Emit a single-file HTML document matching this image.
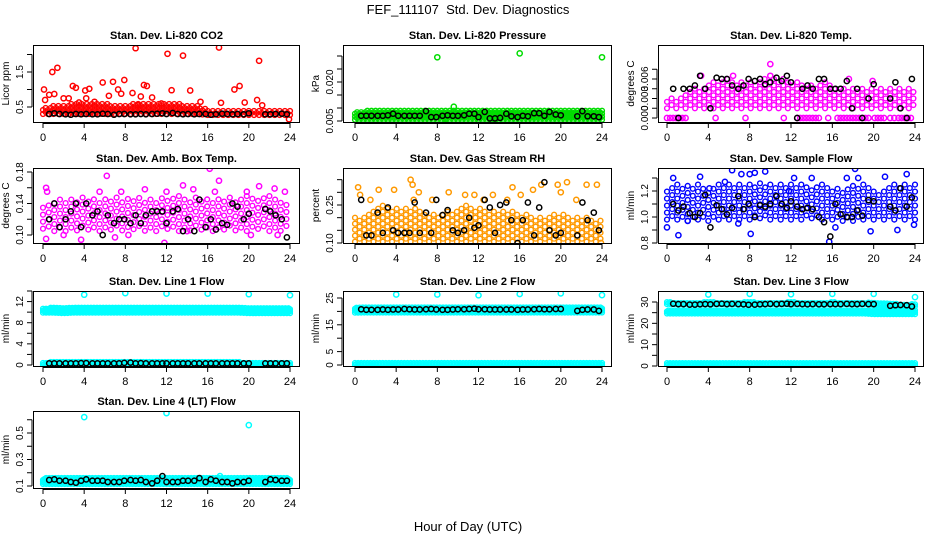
<!DOCTYPE html>
<html><head><meta charset="utf-8"><style>
html,body{margin:0;padding:0;background:#fff;}
svg{display:block;font-family:"Liberation Sans",Arial,sans-serif;}
</style></head><body>
<svg id="chart" width="936" height="540" viewBox="0 0 936 540">
<rect width="936" height="540" fill="#fff"/>
<text x="468" y="14" text-anchor="middle" font-size="13">FEF_111107&#160; Std. Dev. Diagnostics</text>
<text x="468" y="531" text-anchor="middle" font-size="13">Hour of Day (UTC)</text>
</svg>
<script>
const HOURS=[0,1,2,3,4,5,6,7,8,9,10,11,12,13,14,15,16,17,18,19,20,21,22,23,24];
const X_TICKS=[0,4,8,12,16,20,24];
const BLACK_X=[0.6,1.1,1.6,2.2,2.7,3.2,3.7,4.2,4.8,5.3,5.8,6.3,6.9,7.4,7.9,8.5,9.0,9.5,10.0,10.6,11.1,11.6,12.0,12.6,13.1,13.6,14.1,14.7,15.2,15.8,16.3,16.8,17.4,17.9,18.4,18.9,19.5,20.0,21.6,22.1,22.6,23.2,23.7];

const co2Lo=[0.3,0.3,0.3,0.3,0.3,0.3,0.3,0.3,0.3,0.3,0.3,0.3,0.3,0.3,0.3,0.3,0.27,0.27,0.27,0.27,0.27,0.27,0.27,0.27,0.27];
const co2Hi=[0.5,0.55,0.55,0.6,0.6,0.6,0.6,0.55,0.55,0.6,0.6,0.6,0.62,0.6,0.55,0.55,0.45,0.4,0.4,0.4,0.4,0.4,0.4,0.4,0.4];
const co2OutX=[0.1,0.2,0.9,1.4,0.6,1.1,2.9,3.2,3.5,4.1,4.5,4.2,5.8,6.4,6.8,7.3,7.6,7.9,8.7,9.0,9.5,9.8,10.1,10.6,12.1,12.5,13.6,14.3,15.3,17.1,17.3,18.6,19.1,19.6,20.8,21.0,21.3,23.9,2.0,2.5,11.5,5.0,9.2];
const co2OutY=[1.0,0.7,1.5,1.62,0.85,0.87,1.1,1.05,0.63,0.97,1.02,0.75,1.2,0.82,1.22,1.0,0.88,1.27,0.9,2.18,0.8,1.13,1.1,0.77,2.02,0.98,1.97,0.97,0.65,2.2,0.62,1.0,1.1,0.63,0.7,1.82,0.55,0.15,0.75,0.75,0.6,0.65,0.55];
const co2Black=[0.3,0.32,0.3,0.29,0.28,0.3,0.29,0.3,0.29,0.29,0.31,0.3,0.28,0.3,0.3,0.29,0.29,0.3,0.29,0.3,0.31,0.32,0.3,0.33,0.3,0.29,0.3,0.29,0.3,0.3,0.28,0.29,0.31,0.3,0.29,0.3,0.29,0.32,0.29,0.29,0.3,0.31,0.29];

const presLo=[0.0055,0.0055,0.0055,0.0055,0.0055,0.0055,0.0055,0.0055,0.0055,0.0055,0.0055,0.0055,0.0055,0.0055,0.0055,0.0055,0.0055,0.0055,0.0055,0.0055,0.0055,0.0055,0.0055,0.0055,0.0055];
const presHi=[0.0085,0.009,0.0095,0.0095,0.009,0.009,0.009,0.009,0.0095,0.0095,0.0095,0.0095,0.0095,0.009,0.009,0.0095,0.0095,0.009,0.0095,0.0095,0.0095,0.0095,0.0095,0.009,0.009];
const presOutX=[8.0,16.0,24.0,9.6,8.7];
const presOutY=[0.0295,0.031,0.0295,0.0105,0.004];
const presBlack=[0.007,0.007,0.007,0.007,0.007,0.0072,0.0078,0.007,0.007,0.007,0.007,0.007,0.0088,0.0065,0.0065,0.007,0.0072,0.007,0.007,0.0072,0.0078,0.0078,0.0065,0.0085,0.006,0.006,0.0062,0.0078,0.0068,0.0065,0.007,0.0068,0.008,0.008,0.007,0.0085,0.0075,0.0072,0.0068,0.0088,0.0068,0.0068,0.0065];

const tempLo=[0.0015,0.0015,0.0015,0.0015,0.0015,0.0015,0.0015,0.0015,0.0015,0.0015,0.0015,0.0015,0.0015,0.0015,0.0015,0.0015,0.0015,0.0015,0.0015,0.0015,0.0015,0.0015,0.0015,0.0015,0.0015];
const tempHi=[0.003,0.003,0.0045,0.0045,0.0052,0.006,0.006,0.0057,0.0057,0.006,0.0065,0.006,0.006,0.0052,0.0052,0.0055,0.0057,0.0045,0.0045,0.0045,0.0045,0.0045,0.0045,0.0045,0.0045];
const tempOutX=[10.0,3.3,6.4,10.0,0,0.3,0.6,0.9,1.2,1.5,1.8,4.7,7.6,11.3,12.6,12.9,13.2,13.5,13.8,14.1,14.4,14.7,15.6,16.5,16.8,17.1,17.4,17.7,18,18.3,18.6,18.9,19.2,19.5,20.1,20.4,20.7,21,21.6,22,22.4,22.7,23.0,23.3,23.6,19.9,17.6];
const tempOutY=[0.0083,0.0065,0.0065,0.0065,0,0,0,0,0,0,0,0,0,0,0,0,0,0,0,0,0,0,0,0,0,0,0,0,0,0,0,0,0,0,0,0,0,0,0,0,0,0,0,0,0,0.0057,0.006];
const tempBlack=[0.0045,0.0,0.0045,0.0045,0.005,0.0065,0.0045,0.0015,0.0062,0.006,0.006,0.005,0.0045,0.005,0.006,0.0057,0.006,0.0052,0.0055,0.0062,0.0057,0.0065,0.0055,0.0,0.0045,0.005,0.0045,0.006,0.006,0.0045,0.0045,0.0045,0.0057,0.0015,0.0045,0.0,0.003,0.0052,0.003,0.0055,0.0015,0.0,0.006];

const ambLo=[0.108,0.105,0.105,0.105,0.108,0.105,0.105,0.108,0.105,0.108,0.105,0.105,0.108,0.105,0.105,0.108,0.105,0.105,0.108,0.105,0.105,0.108,0.105,0.105,0.108];
const ambHi=[0.14,0.145,0.148,0.15,0.148,0.145,0.148,0.15,0.148,0.15,0.148,0.148,0.15,0.15,0.148,0.15,0.15,0.148,0.15,0.148,0.15,0.148,0.15,0.148,0.145];
const ambOutX=[0.3,0.4,0.3,3.7,6.2,7.0,7.6,9.9,11.8,12.0,13.6,14.6,16.2,17.1,16.7,19.8,21.0,22.5,22.8,2.0,5.5,8.3,14.0,20.2,23.5];
const ambOutY=[0.16,0.155,0.095,0.094,0.175,0.097,0.155,0.158,0.09,0.155,0.163,0.158,0.184,0.169,0.155,0.155,0.162,0.159,0.1,0.1,0.155,0.1,0.105,0.1,0.155];
const ambBlack=[0.12,0.14,0.11,0.12,0.13,0.14,0.11,0.14,0.125,0.13,0.1,0.125,0.115,0.12,0.12,0.115,0.125,0.115,0.125,0.13,0.13,0.13,0.115,0.13,0.133,0.105,0.12,0.105,0.145,0.11,0.12,0.107,0.115,0.113,0.14,0.136,0.12,0.127,0.133,0.13,0.125,0.12,0.097];

const rhLo=[0.105,0.105,0.105,0.105,0.105,0.105,0.105,0.105,0.105,0.105,0.105,0.105,0.105,0.105,0.105,0.105,0.105,0.105,0.105,0.105,0.105,0.105,0.105,0.105,0.105];
const rhHi=[0.2,0.22,0.25,0.25,0.24,0.25,0.24,0.22,0.22,0.23,0.24,0.25,0.24,0.23,0.22,0.23,0.22,0.21,0.2,0.22,0.22,0.21,0.2,0.2,0.19];
const rhOutX=[0.3,0.5,2.3,3.8,5.4,5.6,6.2,9.1,10.7,11.6,13.4,15.3,16.1,17.3,18.1,19.7,20.0,20.6,22.5,23.5,23.9,5.7,1.5,7.5,12.5,14.8,21.5];
const rhOutY=[0.32,0.29,0.31,0.31,0.35,0.33,0.3,0.3,0.29,0.29,0.29,0.32,0.29,0.31,0.33,0.33,0.3,0.34,0.33,0.33,0.1,0.27,0.27,0.27,0.27,0.27,0.27];
const rhBlack=[0.27,0.13,0.13,0.22,0.14,0.24,0.15,0.14,0.14,0.14,0.26,0.14,0.22,0.14,0.27,0.21,0.23,0.15,0.14,0.15,0.2,0.16,0.17,0.27,0.24,0.14,0.25,0.26,0.19,0.1,0.19,0.26,0.13,0.24,0.34,0.15,0.13,0.14,0.13,0.26,0.19,0.22,0.15];

const flowLo=[0.98,0.98,0.97,0.98,0.97,0.98,0.98,0.98,0.98,0.99,0.98,0.98,0.98,0.98,0.99,0.98,0.98,0.97,0.97,0.98,0.98,0.98,0.98,0.98,0.98];
const flowHi=[1.2,1.25,1.25,1.25,1.22,1.25,1.25,1.27,1.27,1.27,1.25,1.25,1.25,1.25,1.25,1.25,1.22,1.22,1.25,1.25,1.22,1.22,1.25,1.25,1.25];
const flowOutX=[0,0.6,1.1,3.2,4.1,5.6,6.3,7.2,8,8.5,9.5,8.1,11.8,12.3,15.7,16.3,17.4,18.2,18.5,19.7,21.1,22.3,23.2,23.9,2.0,14.0,6.9];
const flowOutY=[0.92,1.3,0.86,1.31,1.22,1.27,1.36,1.33,1.33,1.34,1.35,0.87,1.2,1.3,0.81,0.92,1.3,1.37,1.3,0.89,1.31,0.9,1.33,0.94,0.97,1.3,0.95];
const flowBlack=[1.1,1.05,1.08,1.03,1.0,1.03,1.17,0.92,1.09,1.06,1.02,1.07,1.16,1.06,1.10,1.0,1.09,1.08,1.1,1.16,1.1,1.07,1.12,1.08,1.06,1.07,1.06,1.0,0.96,0.85,1.1,1.02,1.0,1.0,1.05,1.01,1.13,1.12,1.08,1.05,1.22,1.08,1.15];

const line1Lo=[9.9,9.9,9.8,9.9,9.9,9.9,9.9,9.9,9.9,9.9,9.9,9.9,9.9,9.9,9.9,9.9,9.9,9.9,9.9,9.9,9.8,9.8,9.8,9.8,9.8];
const line1Hi=[10.8,10.9,10.9,10.9,10.9,10.9,10.9,10.9,10.9,10.9,10.9,10.9,11.0,10.9,10.9,10.9,10.9,10.9,10.9,10.9,10.9,10.8,10.8,10.8,10.8];
const line1LowLo=[0,0,0,0,0,0,0,0,0,0,0,0,0,0,0,0,0,0,0,0,0,0,0,0,0];
const line1LowHi=[0.5,0.6,0.6,0.6,0.6,0.6,0.6,0.6,0.7,0.6,0.6,0.6,0.6,0.6,0.6,0.6,0.6,0.6,0.6,0.6,0.5,0.5,0.5,0.5,0.5];
const line1OutX=[4,8,12,16,20,24];
const line1OutY=[13.3,13.6,13.5,13.5,13.4,13.2];
const line1Black=[0.3,0.3,0.3,0.3,0.3,0.3,0.35,0.35,0.3,0.3,0.3,0.3,0.3,0.3,0.4,0.45,0.3,0.35,0.3,0.3,0.3,0.3,0.3,0.3,0.3,0.3,0.3,0.3,0.3,0.3,0.3,0.3,0.3,0.3,0.3,0.3,0.3,0.3,0.3,0.3,0.3,0.3,0.3];

const line2Lo=[19.5,19.6,19.6,19.6,19.6,19.6,19.6,19.6,19.6,19.6,19.6,19.6,19.6,19.6,19.6,19.6,19.6,19.6,19.6,19.6,19.6,19.6,19.6,19.6,19.6];
const line2Hi=[21.6,21.6,21.6,21.6,21.6,21.6,21.6,21.6,21.6,21.6,21.6,21.6,21.6,21.6,21.6,21.6,21.6,21.6,21.6,21.6,21.8,21.6,21.6,21.6,21.6];
const line2LowLo=[0,0,0,0,0,0,0,0,0,0,0,0,0,0,0,0,0,0,0,0,0,0,0,0,0];
const line2LowHi=[0.8,0.8,0.8,0.8,0.8,0.8,0.8,0.8,0.8,0.8,0.8,0.8,0.8,0.8,0.8,0.8,0.8,0.8,0.8,0.8,0.8,0.8,0.8,0.8,0.8];
const line2OutX=[4,8,12,16,20,24];
const line2OutY=[26.3,26.3,26.0,26.5,26.7,26.1];
const line2Black=[20.8,20.6,20.6,20.6,20.7,20.6,20.7,20.7,20.9,20.8,20.7,20.7,20.8,20.9,20.7,20.6,20.6,20.7,20.8,20.8,20.9,21.0,20.8,20.8,20.7,20.7,20.7,20.7,20.7,20.6,20.7,20.7,20.8,20.9,20.8,20.8,20.9,20.9,20.2,20.6,20.7,20.7,20.2];

const line3Lo=[24.6,24.6,24.6,24.6,24.6,24.6,24.6,24.6,24.6,24.6,24.6,24.6,24.6,24.6,24.6,24.6,24.6,24.6,24.6,24.6,24.3,24.3,24.3,24.3,24.3];
const line3Hi=[26.2,26.2,26.2,26.2,26.2,26.2,26.2,26.2,26.2,26.2,26.2,26.2,26.2,26.2,26.2,26.2,26.2,26.2,26.2,26.2,26.2,26.2,26.2,26.2,26.2];
const line3TopLo=[29.0,29.0,29.0,29.0,29.0,29.0,29.0,29.0,29.0,29.0,29.0,29.0,29.0,29.0,29.0,29.0,29.0,29.0,29.0,29.0,28.6,28.4,28.2,28.2,28.0];
const line3TopHi=[30.0,29.8,29.8,29.8,30.2,29.8,29.8,29.8,30.2,29.8,29.8,29.8,30.0,29.8,29.8,29.8,30.0,29.8,29.8,29.8,30.0,29.8,29.2,29.0,29.0];
const line3LowLo=[0.4,0.4,0.4,0.4,0.4,0.4,0.4,0.4,0.4,0.4,0.4,0.4,0.4,0.4,0.4,0.4,0.4,0.4,0.4,0.4,0.4,0.4,0.4,0.4,0.4];
const line3LowHi=[1.6,1.6,1.6,1.6,1.6,1.6,1.6,1.6,1.8,1.6,1.6,1.6,1.6,1.6,1.6,1.6,1.6,1.6,1.6,1.6,1.6,1.6,1.6,1.6,1.6];
const line3OutX=[4,8,12,16,20,24];
const line3OutY=[33.5,33.8,33.6,33.8,33.8,32.3];
const line3Black=[29.2,29.0,29.0,28.8,28.8,28.9,29.0,28.9,29.1,29.2,29.0,29.1,29.0,28.9,28.7,28.8,28.9,29.0,29.1,29.0,29.1,29.2,29.0,29.1,29.0,28.9,29.0,28.9,28.9,29.0,29.0,29.0,29.1,29.0,29.0,29.1,29.0,29.0,28.2,28.5,28.6,28.5,27.9];

const line4Lo=[0.115,0.115,0.115,0.115,0.115,0.115,0.115,0.115,0.115,0.115,0.115,0.115,0.115,0.115,0.115,0.115,0.115,0.115,0.115,0.115,0.115,0.115,0.115,0.115,0.115];
const line4Hi=[0.16,0.165,0.165,0.165,0.165,0.165,0.165,0.165,0.165,0.165,0.165,0.165,0.165,0.165,0.165,0.165,0.165,0.165,0.165,0.165,0.165,0.165,0.165,0.165,0.16];
const line4OutX=[4,12,20,17.2];
const line4OutY=[0.62,0.65,0.56,0.175];
const line4Black=[0.145,0.15,0.14,0.14,0.13,0.125,0.14,0.15,0.14,0.14,0.14,0.13,0.13,0.13,0.14,0.145,0.14,0.145,0.13,0.12,0.14,0.175,0.13,0.13,0.13,0.14,0.14,0.14,0.16,0.13,0.15,0.14,0.13,0.13,0.12,0.13,0.13,0.14,0.13,0.15,0.145,0.14,0.14];

const COLS=[{l:33,r:300,x0:43,x1:290},{l:343,r:612,x0:355,x1:602},{l:658,r:924,x0:667,x1:915}];
const ROWS=[{t:45,b:122},{t:168,b:243},{t:291,b:366},{t:411,b:488}];

const PANELS=[
 {name:'co2',title:'Stan. Dev. Li-820 CO2',ylab:'Licor ppm',c:0,r:0,color:'#ff0000',va:0.5,pa:107,vb:1.5,pb:72,ticks:[0.5,1,1.5,2],labels:['0.5','','1.5',''],bands:[[co2Lo,co2Hi]],sx:0.25,dy:4,ox:co2OutX,oy:co2OutY,black:co2Black},
 {name:'pressure',title:'Stan. Dev. Li-820 Pressure',ylab:'kPa',c:1,r:0,color:'#00dd00',va:0.005,pa:121,vb:0.020,pb:82,ticks:[0.005,0.010,0.015,0.020,0.025,0.030],labels:['0.005','','','0.020','',''],bands:[[presLo,presHi]],sx:0.2,dy:3,ox:presOutX,oy:presOutY,black:presBlack},
 {name:'temp',title:'Stan. Dev. Li-820 Temp.',ylab:'degrees C',c:2,r:0,color:'#ff00ff',va:0,pa:118,vb:0.006,pb:79,ticks:[0,0.0015,0.003,0.0045,0.006,0.0075],labels:['0.000','','0.003','','0.006',''],bands:[[tempLo,tempHi]],sx:0.45,dy:6.5,ox:tempOutX,oy:tempOutY,black:tempBlack},
 {name:'amb-box',title:'Stan. Dev. Amb. Box Temp.',ylab:'degrees C',c:0,r:1,color:'#ff00ff',va:0.10,pa:235,vb:0.18,pb:172,ticks:[0.10,0.12,0.14,0.16,0.18],labels:['0.10','','0.14','','0.18'],bands:[[ambLo,ambHi]],sx:0.55,dy:7,ox:ambOutX,oy:ambOutY,black:ambBlack},
 {name:'gas-rh',title:'Stan. Dev. Gas Stream RH',ylab:'percent',c:1,r:1,color:'#ff9900',va:0.10,pa:243,vb:0.25,pb:205,ticks:[0.10,0.15,0.20,0.25,0.30,0.35],labels:['0.10','','','0.25','',''],bands:[[rhLo,rhHi]],sx:0.45,dy:6,ox:rhOutX,oy:rhOutY,black:rhBlack},
 {name:'sample-flow',title:'Stan. Dev. Sample Flow',ylab:'ml/min',c:2,r:1,color:'#0000ff',va:0.8,pa:243,vb:1.2,pb:191,ticks:[0.8,0.9,1.0,1.1,1.2,1.3],labels:['0.8','','1.0','','1.2',''],bands:[[flowLo,flowHi]],sx:0.5,dy:7,ox:flowOutX,oy:flowOutY,black:flowBlack},
 {name:'line1-flow',title:'Stan. Dev. Line 1 Flow',ylab:'ml/min',c:0,r:2,color:'#00ffff',va:0,pa:365,vb:14,pb:291,ticks:[0,2,4,6,8,10,12,14],labels:['0','','4','','8','','12',''],bands:[[line1Lo,line1Hi],[line1LowLo,line1LowHi]],sx:0.15,dy:2,ox:line1OutX,oy:line1OutY,black:line1Black},
 {name:'line2-flow',title:'Stan. Dev. Line 2 Flow',ylab:'ml/min',c:1,r:2,color:'#00ffff',va:0,pa:365,vb:25,pb:298,ticks:[0,5,10,15,20,25],labels:['0','5','','15','','25'],bands:[[line2Lo,line2Hi],[line2LowLo,line2LowHi]],sx:0.15,dy:2,ox:line2OutX,oy:line2OutY,black:line2Black},
 {name:'line3-flow',title:'Stan. Dev. Line 3 Flow',ylab:'ml/min',c:2,r:2,color:'#00ffff',va:0,pa:366,vb:30,pb:302,ticks:[0,5,10,15,20,25,30],labels:['0','','10','','20','','30'],bands:[[line3Lo,line3Hi],[line3TopLo,line3TopHi],[line3LowLo,line3LowHi]],sx:0.15,dy:2,ox:line3OutX,oy:line3OutY,black:line3Black},
 {name:'line4-flow',title:'Stan. Dev. Line 4 (LT) Flow',ylab:'ml/min',c:0,r:3,color:'#00ffff',va:0.1,pa:486,vb:0.5,pb:433,ticks:[0.1,0.2,0.3,0.4,0.5,0.6],labels:['0.1','','0.3','','0.5',''],bands:[[line4Lo,line4Hi]],sx:0.15,dy:2,ox:line4OutX,oy:line4OutY,black:line4Black}
];

const NS='http://www.w3.org/2000/svg';
const svg=document.getElementById('chart');
function mk(tag,attrs,parent){const e=document.createElementNS(NS,tag);for(const k in attrs)e.setAttribute(k,attrs[k]);parent.appendChild(e);return e;}
function interp(arr,x){const i=Math.min(23,Math.floor(x));const f=x-i;return arr[i]*(1-f)+arr[i+1]*f;}

PANELS.forEach(p=>{
  const C=COLS[p.c],R=ROWS[p.r];
  const xs=h=>C.x0+(C.x1-C.x0)*h/24;
  const ys=v=>p.pa+(v-p.va)*(p.pb-p.pa)/(p.vb-p.va);
  const g=mk('g',{},svg);
  
  
  const clipId='clip-'+p.name;
  const cp=mk('clipPath',{id:clipId},g);
  mk('rect',{x:C.l,y:R.t,width:C.r-C.l,height:R.b-R.t},cp);
  const pts=mk('g',{'clip-path':'url(#'+clipId+')'},g);
  
  
  p.bands.forEach(b=>{
    const lo=b[0],hi=b[1];
    let k=0;
    for(let h=0;h<=24.001;h+=p.sx){
      const yl=ys(interp(lo,Math.min(h,24))),yh=ys(interp(hi,Math.min(h,24)));
      const off=(k%2)*p.dy/2;k++;
      for(let y=yl-off;y>=yh;y-=p.dy){
        const c=mk('circle',{cx:xs(h).toFixed(1),cy:y.toFixed(1),r:2.4,fill:'none',stroke:p.color,'stroke-width':1.4},pts);
        
        
      }
    }
  });
  p.ox.forEach((h,i)=>{
    const c=mk('circle',{cx:xs(h).toFixed(1),cy:ys(p.oy[i]).toFixed(1),r:2.6,fill:'none',stroke:p.color,'stroke-width':1.5},pts);
    
    
  });
  const n=Math.min(BLACK_X.length,p.black.length);
  for(let i=0;i<n;i++){
    const c=mk('circle',{cx:xs(BLACK_X[i]).toFixed(1),cy:ys(p.black[i]).toFixed(1),r:2.6,fill:'none',stroke:'#000','stroke-width':1.5},pts);
    
    
  }
  const box=mk('rect',{x:C.l+0.5,y:R.t+0.5,width:C.r-C.l-1,height:R.b-R.t,fill:'none',stroke:'#000','stroke-width':1},g);
  
  
  const xa=mk('g',{},g);
  
  
  mk('line',{x1:xs(0),x2:xs(24),y1:R.b+1.5,y2:R.b+1.5,stroke:'#000'},xa);
  X_TICKS.forEach(t=>{
    mk('line',{x1:xs(t),x2:xs(t),y1:R.b+1,y2:R.b+6,stroke:'#000'},xa);
    const tx=mk('text',{x:xs(t),y:R.b+19,'text-anchor':'middle','font-size':11},xa);
    tx.textContent=t;
    
    
  });
  const ya=mk('g',{},g);
  
  
  const y0=ys(p.ticks[0]),y1=ys(p.ticks[p.ticks.length-1]);
  mk('line',{x1:C.l-1,x2:C.l-1,y1:y0,y2:y1,stroke:'#000'},ya);
  p.ticks.forEach((t,i)=>{
    const y=ys(t);
    mk('line',{x1:C.l-6,x2:C.l-1,y1:y,y2:y,stroke:'#000'},ya);
    if(p.labels[i]){
      const tx=mk('text',{x:0,y:0,'text-anchor':'middle','font-size':10,transform:'translate('+(C.l-10)+','+y+') rotate(-90)'},ya);
      tx.textContent=p.labels[i];
      
      
    }
  });
  const yt=mk('text',{x:0,y:0,'text-anchor':'middle','font-size':10,transform:'translate('+(C.l-24)+','+((R.t+R.b)/2)+') rotate(-90)'},g);
  yt.textContent=p.ylab;
  
  
  const tt=mk('text',{x:(C.l+C.r)/2,y:R.t-6,'text-anchor':'middle','font-size':11,'font-weight':'bold'},g);
  tt.textContent=p.title;
  
  
});
</script>
</body></html>
